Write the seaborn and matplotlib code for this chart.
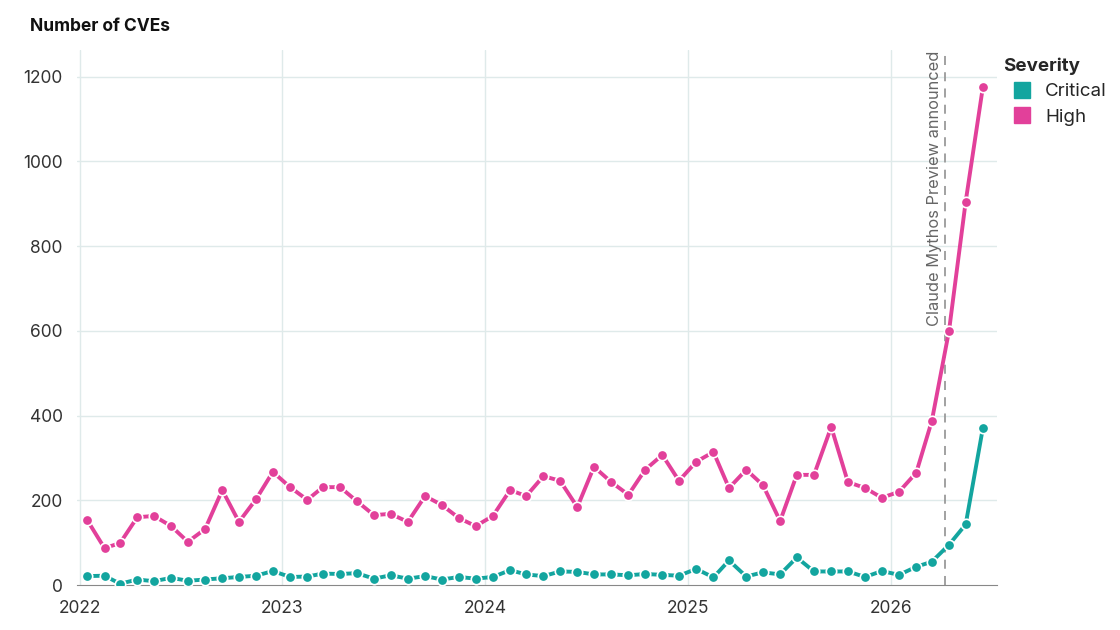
import pandas as pd
import numpy as np
import matplotlib.pyplot as plt
import matplotlib.dates as mdates
from matplotlib.lines import Line2D
import seaborn as sns

# ==================== Data ====================
months = pd.date_range('2022-01-01', '2026-06-01', freq='MS') + pd.Timedelta(days=14)

high = [153, 87, 99, 160, 163, 139, 102, 132, 224, 149, 203, 267,
        231, 201, 231, 231, 198, 165, 168, 149, 210, 189, 158, 139,
        163, 224, 210, 257, 246, 184, 279, 243, 213, 272, 307, 246,
        291, 314, 229, 272, 236, 151, 260, 260, 373, 243, 229, 206,
        220, 265, 387, 600, 905, 1176]

critical = [21, 22, 3, 13, 9, 17, 10, 13, 16, 19, 22, 33,
            19, 20, 27, 26, 28, 15, 23, 15, 21, 13, 19, 15,
            19, 35, 25, 21, 32, 31, 25, 25, 23, 26, 24, 22,
            38, 18, 58, 20, 30, 25, 65, 32, 32, 32, 19, 33,
            24, 43, 55, 95, 143, 371]

severities = ['Critical', 'High']
palette = {'Critical': '#13a59f', 'High': '#e2409a'}
announce_date = pd.Timestamp('2026-04-07')
announce_label = 'Claude Mythos Preview announced'

df = pd.DataFrame({
    'month': np.concatenate([months, months]),
    'count': critical + high,
    'severity': ['Critical'] * len(critical) + ['High'] * len(high),
})

# ==================== Plot ====================
sns.set_style('white')
plt.rcParams['font.family'] = ['Inter', 'DejaVu Sans']

fig = plt.figure(figsize=(11.2, 6.3), dpi=100)
ax = fig.add_axes([0.069, 0.0714, 0.821, 0.85])

grid_color = '#dfeaea'
for yr in range(2022, 2027):
    ax.axvline(pd.Timestamp(f'{yr}-01-01'), color=grid_color, lw=1, zorder=0)
for v in range(200, 1400, 200):
    ax.axhline(v, color=grid_color, lw=1, zorder=0)

sns.lineplot(data=df, x='month', y='count', hue='severity', hue_order=severities,
             palette=palette, marker='o', markersize=7.5, markeredgecolor='white',
             markeredgewidth=1.2, linewidth=2.8, legend=False, ax=ax, zorder=3)

ax.axvline(announce_date, color='#9a9a9a', lw=1.3, ls=(0, (5, 4)), zorder=2)
ax.text(announce_date - pd.Timedelta(days=4), 1262, announce_label, rotation=90,
        ha='right', va='top', fontsize=11.8, color='#666666')

ax.set_xlim(pd.Timestamp('2021-12-28'), pd.Timestamp('2026-07-10'))
ax.set_ylim(0, 1264)
ax.set_yticks(range(0, 1400, 200))
ax.xaxis.set_major_locator(mdates.YearLocator())
ax.xaxis.set_major_formatter(mdates.DateFormatter('%Y'))
ax.set_xlabel('')
ax.set_ylabel('')

for side in ['top', 'right', 'left']:
    ax.spines[side].set_visible(False)
ax.spines['bottom'].set_color('#888888')
ax.tick_params(axis='both', labelsize=12.5, colors='#333333', length=7, width=1,
               color='#888888', direction='out')

fig.text(0.027, 0.958, 'Number of CVEs', fontsize=12.5, fontweight='bold',
         ha='left', va='center', color='#111111')

handles = [Line2D([0], [0], marker='s', linestyle='', markersize=11,
                  markerfacecolor=palette[s], markeredgecolor=palette[s]) for s in severities]
leg = fig.legend(handles, severities, title='Severity', loc='upper left',
                 bbox_to_anchor=(0.889, 0.921), frameon=False, fontsize=13.5,
                 title_fontsize=13.5, handletextpad=0.25, labelspacing=0.45,
                 borderaxespad=0)
leg.get_title().set_fontweight('bold')
leg._legend_box.align = 'left'

fig.savefig('out.png', dpi=100)
